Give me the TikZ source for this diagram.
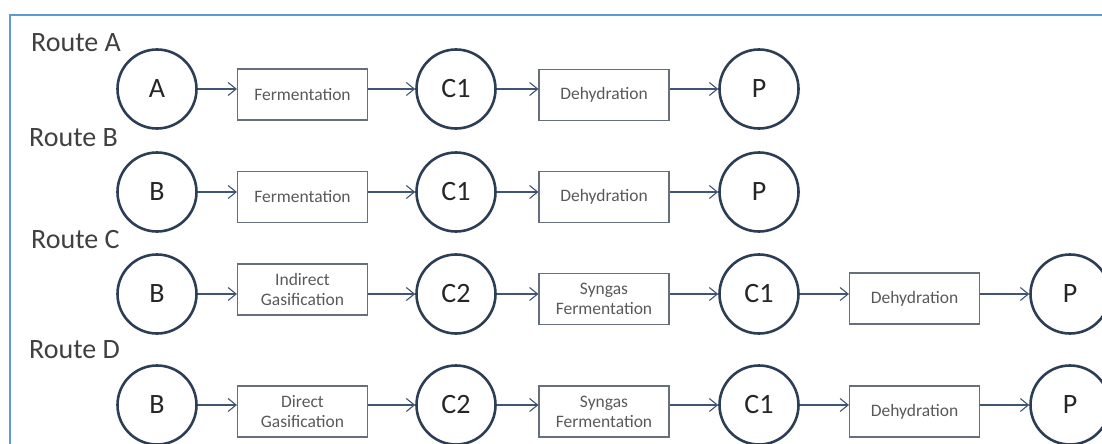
\documentclass[tikz,border=0pt]{standalone}
\usepackage{fontspec}
\setmainfont{Carlito}
\usetikzlibrary{arrows.meta}
\definecolor{frameblue}{HTML}{5B9BD5}
\definecolor{ringcol}{HTML}{2B3E55}
\definecolor{boxcol}{HTML}{66707C}
\definecolor{arrowcol}{HTML}{3F5573}
\definecolor{labelcol}{HTML}{404040}
\definecolor{boxtext}{HTML}{595959}

\begin{document}
\begin{tikzpicture}[x=1pt,y=-1pt,
  species/.style={circle, draw=ringcol, line width=2.6pt, minimum size=79pt,
    inner sep=0pt, font=\fontsize{28}{30}\selectfont, text=black!85},
  process/.style={rectangle, draw=boxcol, line width=1.1pt, minimum width=130pt,
    minimum height=51pt, inner sep=0pt, align=center,
    font=\fontsize{17.5}{20}\selectfont, text=boxtext},
  flow/.style={draw=arrowcol, line width=1.1pt, -{Straight Barb[length=8pt,width=13pt]}},
  routelabel/.style={anchor=west, inner sep=0pt, font=\fontsize{28}{30}\selectfont, text=labelcol}
]
\useasboundingbox (0,0) rectangle (1102,444);
\clip (0,0) rectangle (1102,444);

% frame
\draw[frameblue, line width=1.8pt] (10,446) -- (10,15) -- (1106,15);

% route labels
\node[routelabel] (ra) at (31,43) {Route A};
\node[routelabel] (rb) at (29,138) {Route B};
\node[routelabel] (rc) at (31,240) {Route C};
\node[routelabel] (rd) at (29,350) {Route D};

% Route A
\node[species] (a1) at (157,89) {A};
\node[process] (a2) at (302.5,94.5) {Fermentation};
\node[species] (a3) at (456,89) {C1};
\node[process] (a4) at (604,95) {Dehydration};
\node[species] (a5) at (759,89) {P};
\draw[flow] (a1.east) -- (a1.east -| a2.west);
\draw[flow] (a2.east |- a3.west) -- (a3.west);
\draw[flow] (a3.east) -- (a3.east -| a4.west);
\draw[flow] (a4.east |- a5.west) -- (a5.west);

% Route B
\node[species] (b1) at (157,192) {B};
\node[process] (b2) at (302.5,197) {Fermentation};
\node[species] (b3) at (456,192) {C1};
\node[process] (b4) at (604,197) {Dehydration};
\node[species] (b5) at (759,192) {P};
\draw[flow] (b1.east) -- (b1.east -| b2.west);
\draw[flow] (b2.east |- b3.west) -- (b3.west);
\draw[flow] (b3.east) -- (b3.east -| b4.west);
\draw[flow] (b4.east |- b5.west) -- (b5.west);

% Route C
\node[species] (c1) at (157,294) {B};
\node[process] (c2) at (302.5,289.5) {Indirect\\Gasification};
\node[species] (c3) at (456,294) {C2};
\node[process] (c4) at (604,299) {Syngas\\Fermentation};
\node[species] (c5) at (759,294) {C1};
\node[process] (c6) at (914.5,298.5) {Dehydration};
\node[species] (c7) at (1070,294) {P};
\draw[flow] (c1.east) -- (c1.east -| c2.west);
\draw[flow] (c2.east |- c3.west) -- (c3.west);
\draw[flow] (c3.east) -- (c3.east -| c4.west);
\draw[flow] (c4.east |- c5.west) -- (c5.west);
\draw[flow] (c5.east) -- (c5.east -| c6.west);
\draw[flow] (c6.east |- c7.west) -- (c7.west);

% Route D
\node[species] (d1) at (157,405) {B};
\node[process] (d2) at (302.5,411.5) {Direct\\Gasification};
\node[species] (d3) at (456,405) {C2};
\node[process] (d4) at (604,411.5) {Syngas\\Fermentation};
\node[species] (d5) at (759,405) {C1};
\node[process] (d6) at (914.5,411.5) {Dehydration};
\node[species] (d7) at (1070,405) {P};
\draw[flow] (d1.east) -- (d1.east -| d2.west);
\draw[flow] (d2.east |- d3.west) -- (d3.west);
\draw[flow] (d3.east) -- (d3.east -| d4.west);
\draw[flow] (d4.east |- d5.west) -- (d5.west);
\draw[flow] (d5.east) -- (d5.east -| d6.west);
\draw[flow] (d6.east |- d7.west) -- (d7.west);
\end{tikzpicture}
\end{document}
